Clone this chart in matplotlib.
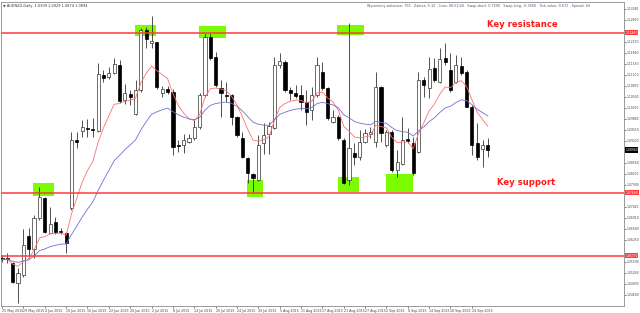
import numpy as np
import pandas as pd
import matplotlib
matplotlib.use("Agg")
import matplotlib.pyplot as plt
from matplotlib.patches import Rectangle

# AUDNZD daily candles, 25 May 2015 .. 29 Sep 2015
opens = [1.0569, 1.0569, 1.0554, 1.0494, 1.0519, 1.0636, 1.0596, 1.0689, 1.0749, 1.0646,
         1.0679, 1.0652, 1.0644, 1.0719, 1.0924, 1.0952, 1.0961, 1.0958, 1.0951, 1.1118,
         1.1112, 1.1124, 1.1149, 1.1044, 1.1062, 1.1001, 1.1074, 1.1254, 1.1214, 1.1217,
         1.1064, 1.1078, 1.1069, 1.0909, 1.0909, 1.0919, 1.0929, 1.0964, 1.1059, 1.1234,
         1.1174, 1.1079, 1.1059, 1.1059, 1.0994, 1.0929, 1.0869, 1.0821, 1.0804, 1.0916,
         1.0942, 1.0959, 1.1149, 1.1159, 1.1074, 1.1066, 1.1059, 1.1039, 1.1014, 1.1059,
         1.1129, 1.1079, 1.0979, 1.0994, 1.0924, 1.0804, 1.0886, 1.0874, 1.0917, 1.0942,
         1.0919, 1.1082, 1.0909, 1.0949, 1.0834, 1.0852, 1.0926, 1.0916, 1.0889, 1.1104,
         1.1079, 1.1139, 1.1099, 1.1169, 1.1134, 1.1099, 1.1146, 1.1129, 1.1024, 1.0914,
         1.0896, 1.0909]
highs = [1.0579, 1.0584, 1.0559, 1.0539, 1.0656, 1.0659, 1.0699, 1.0782, 1.0754, 1.0724,
         1.0694, 1.0659, 1.0649, 1.0949, 1.0949, 1.0984, 1.0986, 1.0989, 1.1154, 1.1134,
         1.1144, 1.1169, 1.1164, 1.1092, 1.1074, 1.1104, 1.1259, 1.1262, 1.1296, 1.1219,
         1.1086, 1.1086, 1.1076, 1.0924, 1.0942, 1.0942, 1.0986, 1.1064, 1.1244, 1.1244,
         1.1189, 1.1104, 1.1099, 1.1062, 1.0996, 1.0949, 1.0874, 1.0826, 1.0939, 1.0974,
         1.0979, 1.1174, 1.1184, 1.1164, 1.1082, 1.1089, 1.1089, 1.1074, 1.1084, 1.1174,
         1.1159, 1.1084, 1.1014, 1.0999, 1.0929, 1.1274, 1.0914, 1.0954, 1.0956, 1.0964,
         1.1129, 1.1086, 1.0954, 1.0954, 1.0894, 1.0994, 1.0959, 1.0934, 1.1129, 1.1114,
         1.1174, 1.1169, 1.1199, 1.1216, 1.1184, 1.1179, 1.1174, 1.1134, 1.1029, 1.0974,
         1.0924, 1.0929]
lows = [1.0559, 1.0554, 1.0496, 1.0434, 1.0514, 1.0569, 1.0569, 1.0684, 1.0644, 1.0644,
        1.0642, 1.0642, 1.0584, 1.0714, 1.0899, 1.0934, 1.0934, 1.0932, 1.0948, 1.1099,
        1.1108, 1.1122, 1.1034, 1.1032, 1.1029, 1.0999, 1.1069, 1.1199, 1.1199, 1.1076,
        1.1052, 1.1062, 1.0879, 1.0889, 1.0886, 1.0914, 1.0924, 1.0956, 1.1052, 1.1164,
        1.1082, 1.0994, 1.1039, 1.0969, 1.0934, 1.0869, 1.0794, 1.0764, 1.0802, 1.0882,
        1.0882, 1.0956, 1.1139, 1.1069, 1.1044, 1.1049, 1.1014, 1.0969, 1.0984, 1.1054,
        1.1074, 1.0984, 1.0974, 1.0924, 1.0792, 1.0789, 1.0849, 1.0864, 1.0914, 1.0929,
        1.0904, 1.0919, 1.0904, 1.0829, 1.0814, 1.0849, 1.0914, 1.0819, 1.0884, 1.1054,
        1.1049, 1.1099, 1.1094, 1.1149, 1.1069, 1.1096, 1.1119, 1.1022, 1.0879, 1.0864,
        1.0844, 1.0874]
closes = [1.0566, 1.0568, 1.0499, 1.0524, 1.0609, 1.0596, 1.0689, 1.0754, 1.0647, 1.0672,
          1.0649, 1.0648, 1.0616, 1.0924, 1.0918, 1.0962, 1.0957, 1.0954, 1.1121, 1.1109,
          1.1124, 1.1152, 1.1042, 1.1064, 1.1052, 1.1074, 1.1254, 1.1226, 1.1221, 1.1084,
          1.1078, 1.1068, 1.0904, 1.0906, 1.0924, 1.0929, 1.0962, 1.1059, 1.1234, 1.1169,
          1.1089, 1.1064, 1.1056, 1.0994, 1.0939, 1.0874, 1.0824, 1.0809, 1.0909, 1.0939,
          1.0966, 1.1149, 1.1162, 1.1074, 1.1064, 1.1056, 1.1039, 1.1009, 1.1059, 1.1149,
          1.1079, 1.0989, 1.0994, 1.0929, 1.0794, 1.0899, 1.0874, 1.0919, 1.0944, 1.0949,
          1.1082, 1.0946, 1.0949, 1.0834, 1.0859, 1.0924, 1.0921, 1.0824, 1.1104, 1.1089,
          1.1136, 1.1104, 1.1166, 1.1157, 1.1074, 1.1149, 1.1124, 1.1024, 1.0909, 1.0872,
          1.0909, 1.0894]

dates = pd.bdate_range("2015-05-25", periods=len(closes))

# horizontal levels
resistance = 1.1246
support = 1.0766
lower_level = 1.0577

# highlighted zones: (first bar, last bar, low price, high price)
zones = [
    (5.75, 9.75, 1.0756, 1.0794),
    (24.9, 28.8, 1.1236, 1.1269),
    (36.9, 41.9, 1.1230, 1.1266),
    (62.7, 67.8, 1.1239, 1.1269),
    (45.8, 48.9, 1.0754, 1.0804),
    (62.9, 66.9, 1.0767, 1.0814),
    (71.9, 76.9, 1.0767, 1.0822),
]

df = pd.DataFrame({"open": opens, "high": highs, "low": lows, "close": closes}, index=dates)
fast_ma = df["close"].ewm(span=8, adjust=False).mean()
slow_ma = df["close"].ewm(span=21, adjust=False).mean()

fig = plt.figure(figsize=(6.4, 3.13), dpi=100)
ax = fig.add_axes([1 / 640, 7 / 313, 623 / 640, 304 / 313])
ax.set_xlim(-0.2, 116.5)
ax.set_ylim(1.0426, 1.1338)

for x0, x1, lo, hi in zones:
    ax.add_patch(Rectangle((x0, lo), x1 - x0, hi - lo, color="#7cfc00", lw=0, zorder=1))

for lvl in (resistance, support, lower_level):
    ax.axhline(lvl, color="#ff3b3b", lw=1.1, zorder=4)

x = np.arange(len(df))
ax.vlines(x, df["low"], df["high"], color="#333333", lw=0.6, zorder=2)
up = df["close"] >= df["open"]
body = (df["close"] - df["open"]).abs().clip(lower=0.00008)
bottom = df[["open", "close"]].min(axis=1)
ax.bar(x[up], body[up], bottom=bottom[up], width=0.6, color="white",
       edgecolor="#333333", lw=0.5, zorder=3)
ax.bar(x[~up], body[~up], bottom=bottom[~up], width=0.6, color="black",
       edgecolor="black", lw=0.5, zorder=3)

ax.plot(x, fast_ma, color="#ff7070", lw=0.6, zorder=3)
ax.plot(x, slow_ma, color="#7070d0", lw=0.6, zorder=3)

ax.text(97.4, 1.12705, "Key resistance", color="#ff1a1a", fontsize=6.1,
        fontweight="bold", ha="center", va="center", zorder=5)
ax.text(98.2, 1.07965, "Key support", color="#ff1a1a", fontsize=6.1,
        fontweight="bold", ha="center", va="center", zorder=5)

# header texts
ax.text(0.004, 0.992, "\u25bc AUDNZD,Daily  1.0909 1.0929 1.0874 1.0894", transform=ax.transAxes,
        fontsize=2.5, color="#333333", va="top", ha="left")
ax.text(0.945, 0.992,
        "Wyceniony wolumen: 755   Zakres: 5.12   Czas: 06:53:40   Swap short: 0.7500   "
        "Swap long: -6.3600   Tick value: 0.672   Spread: 44",
        transform=ax.transAxes, fontsize=2.4, color="#555577", va="top", ha="right")

# axes styling
for s in ax.spines.values():
    s.set_color("#999999")
    s.set_linewidth(0.7)
ax.yaxis.tick_right()
tags = [resistance, support, lower_level, closes[-1]]
yt = [v for v in np.arange(1.0460, 1.1330, 0.0033)
      if min(abs(v - t) for t in tags) > 0.0016]
ax.set_yticks(yt)
ax.set_yticklabels([f"{v:.5f}" for v in yt])
ax.tick_params(axis="y", labelsize=2.2, length=1.2, width=0.5, colors="#444444", pad=0.6)

xt = x[::4]
ax.set_xticks(xt)
ax.set_xticklabels([f"{d.day} {d.strftime('%b %Y')}" for d in dates[::4]], ha="left")
ax.tick_params(axis="x", labelsize=2.3, length=1.5, width=0.5, colors="#444444", pad=1)

# price tags on the right axis
for lvl in (resistance, support, lower_level):
    ax.text(1.002, lvl, f"{lvl:.5f}", transform=ax.get_yaxis_transform(), fontsize=2.2,
            color="white", va="center", ha="left",
            bbox=dict(fc="#ff3b3b", ec="none", pad=0.4))
ax.text(1.002, closes[-1], f"{closes[-1]:.5f}", transform=ax.get_yaxis_transform(),
        fontsize=2.2, color="white", va="center", ha="left",
        bbox=dict(fc="black", ec="none", pad=0.4))

fig.savefig("out.png", dpi=100)
